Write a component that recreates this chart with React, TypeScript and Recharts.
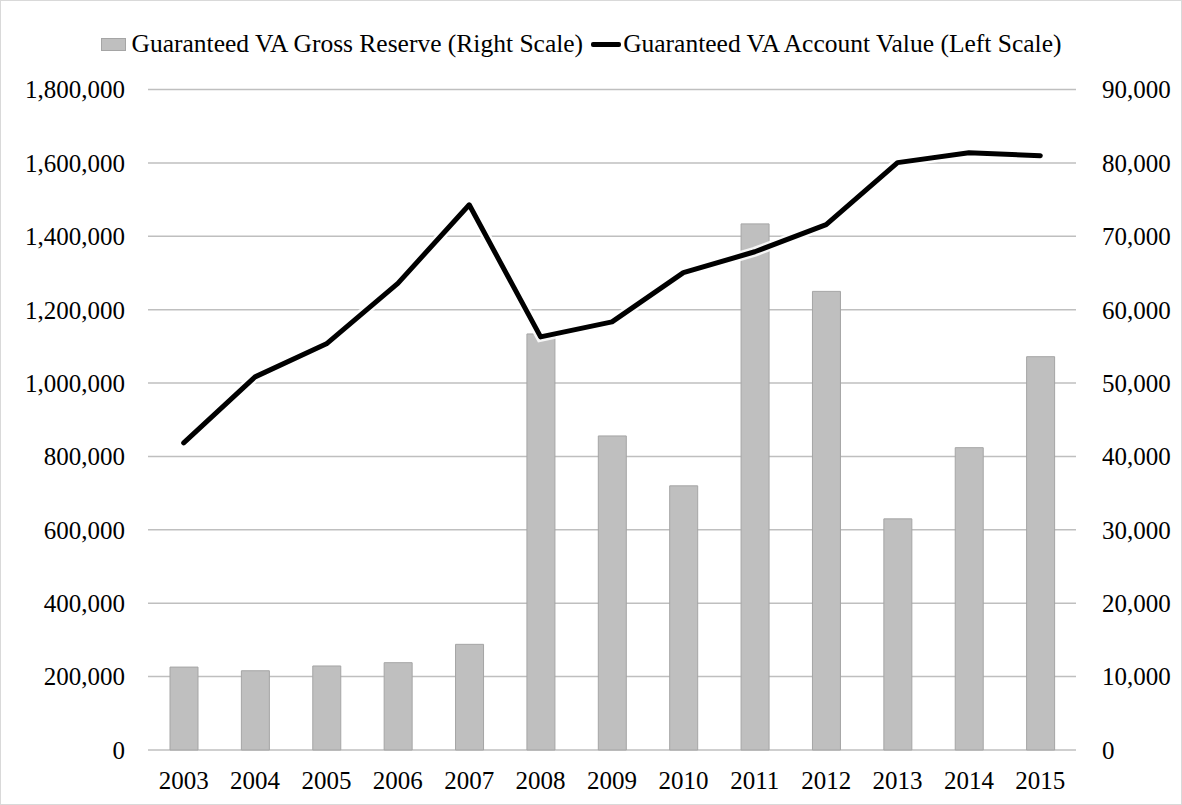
import { ComposedChart, Bar, Line, XAxis, YAxis, CartesianGrid } from "recharts";

const years = ["2003", "2004", "2005", "2006", "2007", "2008", "2009", "2010", "2011", "2012", "2013", "2014", "2015"];

// right scale
const grossReserve = [11300, 10800, 11450, 11900, 14400, 56700, 42800, 36000, 71700, 62500, 31500, 41200, 53600];

// left scale
const accountValue = [837000, 1017000, 1107000, 1272000, 1486000, 1126000, 1167000, 1301000, 1358000, 1432000, 1601000, 1628000, 1620000];

const leftTicks = [0, 200000, 400000, 600000, 800000, 1000000, 1200000, 1400000, 1600000, 1800000];
const rightTicks = [0, 10000, 20000, 30000, 40000, 50000, 60000, 70000, 80000, 90000];

const barLabel = "Guaranteed VA Gross Reserve (Right Scale)";
const lineLabel = "Guaranteed VA Account Value (Left Scale)";

const data = years.map((year, i) => ({
  year,
  reserve: grossReserve[i],
  account: accountValue[i],
}));

const fmt = (v: number) => v.toLocaleString("en-US");
const font = '"Liberation Serif", "Times New Roman", serif';
const tickStyle = { fontSize: 25, fill: "#000", fontFamily: font };

export default function App() {
  return (
    <div
      style={{
        position: "absolute",
        left: 0,
        top: 0,
        width: 1182,
        height: 805,
        border: "1px solid #d9d9d9",
        boxSizing: "border-box",
        background: "#fff",
        fontFamily: font,
      }}
    >
      <div
        style={{
          position: "absolute",
          top: 29,
          left: 0,
          width: 1160,
          display: "flex",
          justifyContent: "center",
          alignItems: "center",
          fontSize: 25.5,
          color: "#000",
          lineHeight: "28px",
          whiteSpace: "nowrap",
        }}
      >
        <span style={{ display: "inline-block", width: 25, height: 13, background: "#bfbfbf", border: "1px solid #a5a5a5", boxSizing: "border-box", marginRight: 6 }} />
        <span>{barLabel}</span>
        <span style={{ display: "inline-block", width: 30, height: 5, background: "#000", borderRadius: 2, margin: "0 2px 0 8px" }} />
        <span>{lineLabel}</span>
      </div>
      <ComposedChart
        width={1180}
        height={803}
        data={data}
        margin={{ top: 88.6, right: 10, bottom: 14, left: 27 }}
        barSize={28}
      >
        <CartesianGrid vertical={false} yAxisId="left" stroke="#bfbfbf" strokeWidth={1.5} />
        <XAxis
          dataKey="year"
          axisLine={false}
          tickLine={false}
          tickMargin={15}
          height={40}
          tick={tickStyle}
          interval={0}
        />
        <YAxis
          yAxisId="left"
          orientation="left"
          domain={[0, 1800000]}
          ticks={leftTicks}
          tickFormatter={fmt}
          axisLine={false}
          tickLine={false}
          tickMargin={17}
          width={120}
          tick={tickStyle}
        />
        <YAxis
          yAxisId="right"
          orientation="right"
          domain={[0, 90000]}
          ticks={rightTicks}
          tickFormatter={fmt}
          axisLine={false}
          tickLine={false}
          tickMargin={20}
          width={95}
          tick={tickStyle}
        />
        <Bar
          yAxisId="right"
          dataKey="reserve"
          name={barLabel}
          fill="#bfbfbf"
          stroke="#a5a5a5"
          strokeWidth={1}
          isAnimationActive={false}
        />
        <Line
          yAxisId="left"
          type="linear"
          dataKey="account"
          stroke="#fff"
          strokeOpacity={0.85}
          strokeWidth={10}
          dot={false}
          activeDot={false}
          legendType="none"
          isAnimationActive={false}
        />
        <Line
          yAxisId="left"
          type="linear"
          dataKey="account"
          name={lineLabel}
          stroke="#000"
          strokeWidth={5}
          strokeLinecap="round"
          strokeLinejoin="round"
          dot={false}
          activeDot={false}
          isAnimationActive={false}
        />
      </ComposedChart>
    </div>
  );
}
